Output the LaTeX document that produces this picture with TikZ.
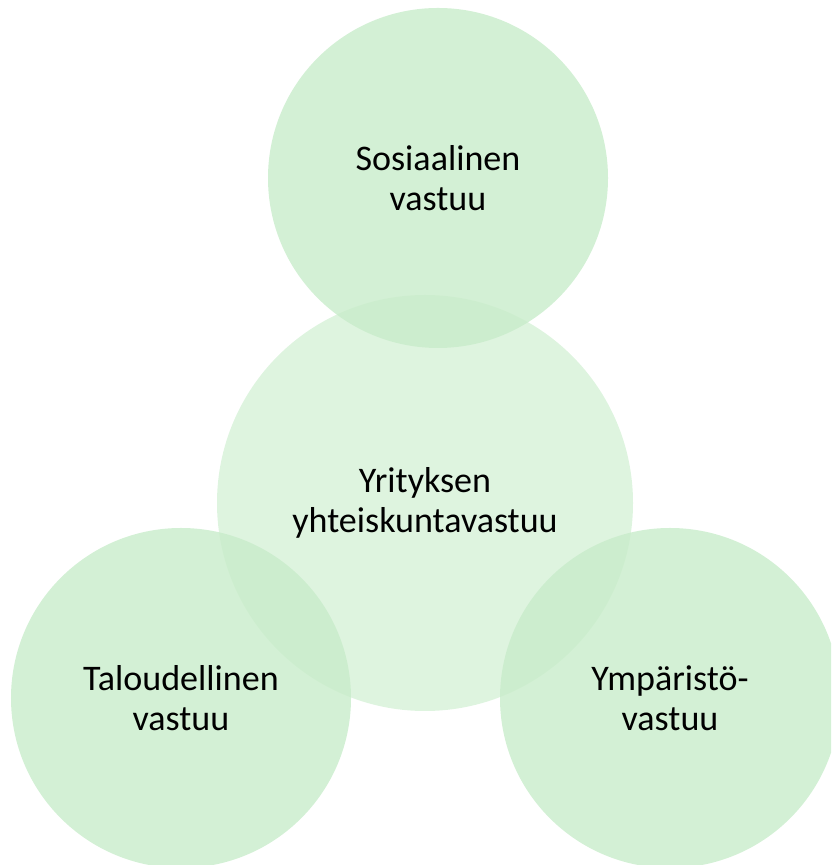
\documentclass[tikz,border=0pt]{standalone}
\usepackage{fontspec}
\setmainfont{Carlito}
\usepackage{tikz}
\usetikzlibrary{positioning}
\definecolor{leafgreen}{RGB}{200,236,202}

\tikzset{
  pallo/.style={circle, fill=leafgreen, fill opacity=0.8, text opacity=1,
    minimum size=6.8cm, inner sep=0pt, align=center, font=\fontsize{20.5}{22.7}\selectfont},
  keskipallo/.style={pallo, fill opacity=0.6, minimum size=8.32cm}
}

\begin{document}
\begin{tikzpicture}
        \path[use as bounding box, clip] (0,0) rectangle (16.62,17.30);
        % keskimmainen ympyra ensin
        \node[keskipallo] (yritys) at (8.50,7.24) {Yrityksen\\yhteiskuntavastuu};
        \node[pallo] (sosiaalinen) at (8.76,13.74) {Sosiaalinen\\vastuu};
        \node[pallo] (talous) at (3.62,3.34) {Taloudellinen\\vastuu};
        \node[pallo] (ymparisto) at (13.40,3.34) {Ympäristö-\\vastuu};
\end{tikzpicture}
\end{document}
